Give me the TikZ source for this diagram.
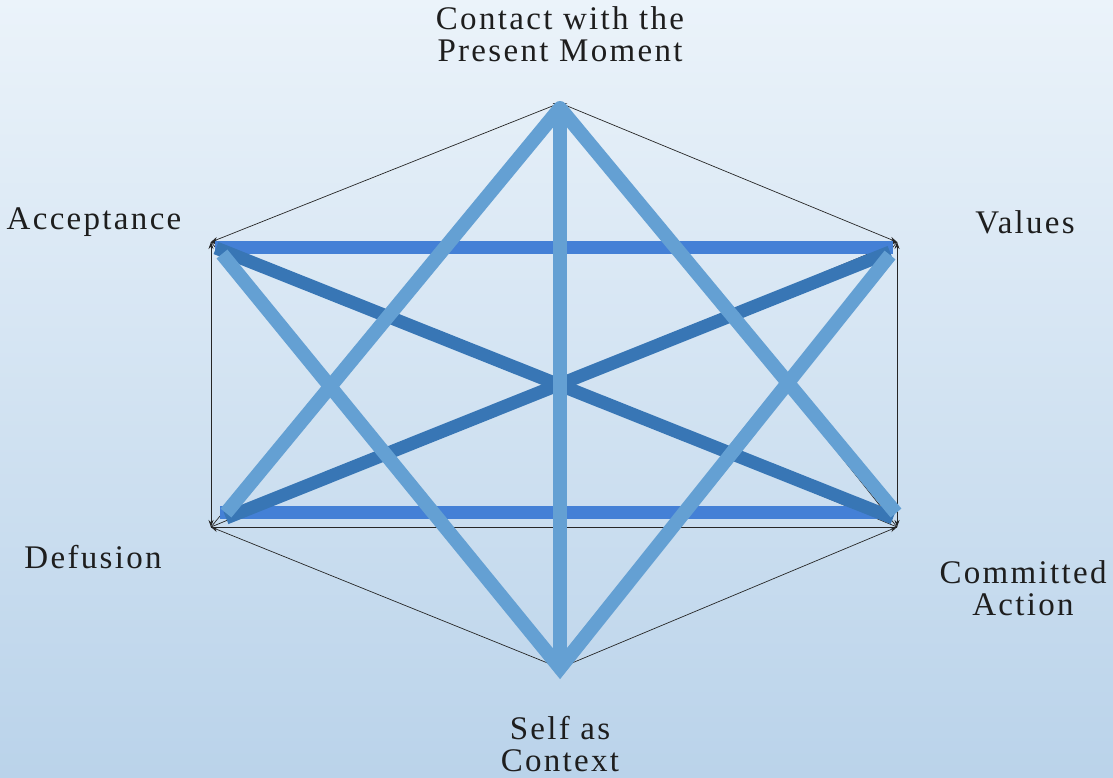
\documentclass[tikz,border=0pt]{standalone}
\usepackage{fontspec}
\setmainfont{Liberation Serif}[LetterSpace=7]
\usetikzlibrary{arrows.meta}
\definecolor{bgtop}{RGB}{235,243,250}
\definecolor{bgbot}{RGB}{186,211,234}
\definecolor{lightb}{RGB}{100,160,211}
\definecolor{brightb}{RGB}{68,128,214}
\definecolor{darkb}{RGB}{56,118,181}
\definecolor{txt}{RGB}{30,30,30}
\tikzset{
  thinedge/.style={draw=black!85, line width=0.7pt, {Stealth[length=7pt,width=5pt]}-{Stealth[length=7pt,width=5pt]}},
  thinline/.style={draw=black!85, line width=0.7pt},
  lightbar/.style={draw=lightb, line width=14pt},
  brightbar/.style={draw=brightb, line width=13pt},
  darkbar/.style={draw=darkb, line width=13pt},
  lbl/.style={text=txt, font=\fontsize{33}{32}\selectfont, align=center, inner sep=0pt}
}
\begin{document}
\begin{tikzpicture}[x=1pt,y=-1pt]
\useasboundingbox (0,0) rectangle (1113,777);
\shade[top color=bgtop, bottom color=bgbot] (0,0) rectangle (1113,777);
% vertices
\coordinate (T) at (560,103);
\coordinate (UL) at (211,242);
\coordinate (UR) at (897,242);
\coordinate (LL) at (211,527);
\coordinate (LR) at (897,527);
\coordinate (B) at (560,668);
% thin hexagon and chords
\draw[thinedge] (T) -- (UR);
\draw[thinedge] (UR) -- (LR);
\draw[thinedge] (LR) -- (B);
\draw[thinedge] (B) -- (LL);
\draw[thinedge] (LL) -- (UL);
\draw[thinedge] (UL) -- (T);
\draw[thinline] (T) -- (LR);
\draw[thinline] (B) -- (UR);
\draw[thinline] (T) -- (LL);
\draw[thinline] (B) -- (UL);
\draw[thinline] (UL) -- (UR);
\draw[thinline] (LL) -- (LR);
\draw[thinline] (UL) -- (LR);
\draw[thinline] (LL) -- (UR);
% blue bar end points
\coordinate (h1a) at (215,247); \coordinate (h1b) at (893,247);
\coordinate (h2a) at (220,512); \coordinate (h2b) at (893,512);
\coordinate (d1a) at (216,248); \coordinate (d1b) at (893,518);
\coordinate (d2a) at (226,518); \coordinate (d2b) at (890,252);
\coordinate (t1) at (560,108); \coordinate (tl) at (226,513); \coordinate (tr) at (896,513);
\coordinate (b1) at (560,668); \coordinate (bl) at (222,254); \coordinate (br) at (890,255);
\coordinate (vt) at (560,110); \coordinate (vb) at (560,668);
% bars
\draw[brightbar] (h1a) -- (h1b);
\draw[brightbar] (h2a) -- (h2b);
\draw[darkbar] (d1a) -- (d1b);
\draw[darkbar] (d2a) -- (d2b);
\draw[lightbar, line join=round] (tl) -- (t1) -- (tr);
\draw[lightbar] (bl) -- (b1) -- (br);
\draw[lightbar] (vt) -- (vb);
% labels
\node[lbl] (lT) at (560,34) {Contact with the\\Present Moment};
\node[lbl] (lUL) at (94,222) {Acceptance};
\node[lbl] (lUR) at (1025,222) {Values};
\node[lbl] (lLL) at (93,557) {Defusion};
\node[lbl] (lLR) at (1023,588) {Committed\\Action};
\node[lbl] (lB) at (560,744) {Self as\\Context};
\end{tikzpicture}
\end{document}
